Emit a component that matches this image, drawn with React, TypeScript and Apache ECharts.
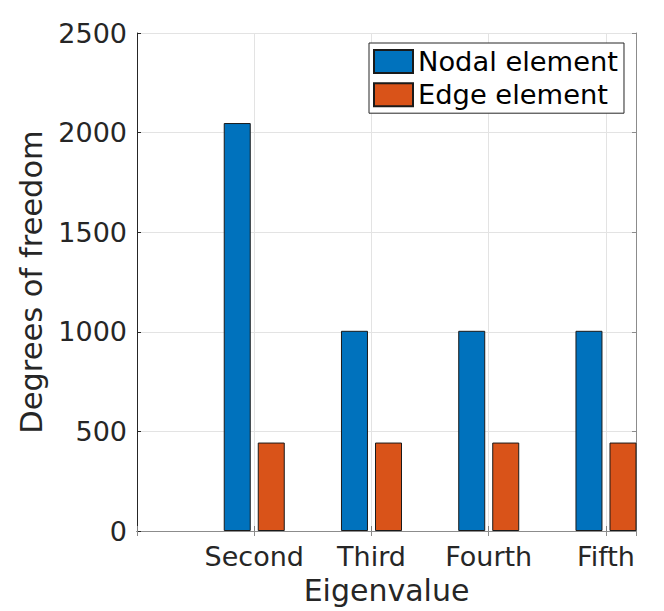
import React, { useEffect, useRef } from "react";
import * as echarts from "echarts";

// Tick labels at x = 1..5 (first tick unlabelled)
const tickLabels = ["", "Second", "Third", "Fourth", "Fifth"];
// Categories holding bars (positions 2..5 on the axis)
const categories = ["Second", "Third", "Fourth", "Fifth"];
const nodalDofs = [2048, 1005, 1005, 1005];
const edgeDofs = [444, 444, 444, 444];
const seriesNames = ["Nodal element", "Edge element"];
const yTicks = [0, 500, 1000, 1500, 2000, 2500];

const FONT = "DejaVu Sans";
const TXT = "#262626";

export default function App() {
  const ref = useRef<HTMLDivElement>(null);
  useEffect(() => {
    document.body.style.margin = "0";
    const chart = echarts.init(ref.current!, null, { renderer: "svg" });
    const pos = (name: string) => tickLabels.indexOf(name) + 1;
    const xMin = 1;
    const xMax = 5.256;
    const yMin = yTicks[0];
    const yMax = yTicks[yTicks.length - 1];
    const yStep = yTicks[1] - yTicks[0];
    chart.setOption({
      animation: false,
      backgroundColor: "#ffffff",
      textStyle: { fontFamily: FONT, color: TXT },
      grid: { left: 137, top: 33, width: 499, height: 498, containLabel: false },
      legend: {
        orient: "vertical",
        left: 369,
        top: 43,
        padding: [5, 6, 5, 4],
        itemWidth: 39,
        itemHeight: 23,
        itemGap: 6.2,
        borderColor: TXT,
        borderWidth: 1,
        backgroundColor: "#ffffff",
        icon: "rect",
        textStyle: { fontSize: 27.3, color: "#000000", fontFamily: FONT },
        data: seriesNames,
      },
      xAxis: [
        {
          type: "value",
          position: "bottom",
          min: xMin,
          max: xMax,
          interval: 1,
          axisLine: { show: true, lineStyle: { color: TXT, width: 1 } },
          axisTick: { show: true, inside: true, length: 5, lineStyle: { color: "#7f7f7f" } },
          axisLabel: {
            show: true,
            fontSize: 27,
            color: TXT,
            fontFamily: FONT,
            margin: 12,
            showMaxLabel: false,
            formatter: (v: number) => tickLabels[Math.round(v) - 1] ?? "",
          },
          splitLine: { show: true, lineStyle: { color: "#e3e3e3", width: 1 } },
          name: "Eigenvalue",
          nameLocation: "middle",
          nameGap: 44,
          nameTextStyle: { fontSize: 30, color: TXT, fontFamily: FONT },
        },
        {
          type: "value",
          position: "top",
          min: xMin,
          max: xMax,
          interval: 1,
          axisLine: { show: true, lineStyle: { color: "#8c8c8c", width: 1 } },
          axisTick: { show: true, inside: true, length: 5, lineStyle: { color: "#8c8c8c" } },
          axisLabel: { show: false },
          splitLine: { show: false },
        },
      ],
      yAxis: [
        {
          type: "value",
          position: "left",
          min: yMin,
          max: yMax,
          interval: yStep,
          axisLine: { show: true, lineStyle: { color: TXT, width: 1 } },
          axisTick: { show: true, inside: true, length: 4, lineStyle: { color: TXT } },
          axisLabel: {
            show: true,
            fontSize: 27,
            color: TXT,
            fontFamily: FONT,
            margin: 10,
            formatter: (v: number) => String(v),
          },
          splitLine: { show: true, lineStyle: { color: "#e3e3e3", width: 1 } },
          name: "Degrees of freedom",
          nameLocation: "middle",
          nameGap: 74,
          nameTextStyle: { fontSize: 30.5, color: TXT, fontFamily: FONT },
        },
        {
          type: "value",
          position: "right",
          min: yMin,
          max: yMax,
          interval: yStep,
          axisLine: { show: true, lineStyle: { color: "#8c8c8c", width: 1 } },
          axisTick: { show: true, inside: true, length: 4, lineStyle: { color: "#8c8c8c" } },
          axisLabel: { show: false },
          splitLine: { show: false },
        },
      ],
      series: [
        {
          name: seriesNames[0],
          type: "bar",
          xAxisIndex: 0,
          yAxisIndex: 0,
          barWidth: 27,
          barGap: "26%",
          clip: true,
          itemStyle: { color: "#0072BD", borderColor: "#1a1a1a", borderWidth: 1 },
          data: categories.map((c, i) => [pos(c), nodalDofs[i]]),
        },
        {
          name: seriesNames[1],
          type: "bar",
          xAxisIndex: 0,
          yAxisIndex: 0,
          barWidth: 27,
          barGap: "26%",
          clip: true,
          itemStyle: { color: "#D95319", borderColor: "#1a1a1a", borderWidth: 1 },
          data: categories.map((c, i) => [pos(c), edgeDofs[i]]),
        },
      ],
    });
    return () => chart.dispose();
  }, []);
  return <div ref={ref} style={{ width: 664, height: 611 }} />;
}
